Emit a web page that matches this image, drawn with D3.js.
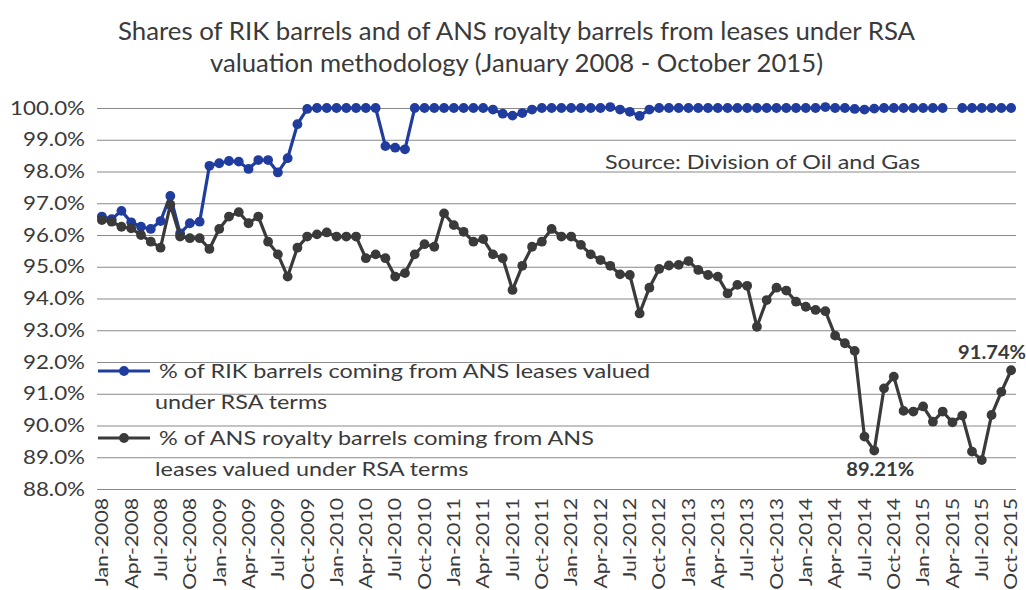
<!DOCTYPE html>
<html><head><meta charset="utf-8">
<script src="https://cdn.jsdelivr.net/npm/d3@7"></script>
<style>
body{margin:0;background:#fff;}
text{font-family:Lato,"Open Sans",sans-serif;}
</style></head>
<body><svg id="chart" width="1026" height="590"></svg>
<script>
const monthNames = ["Jan","Feb","Mar","Apr","May","Jun","Jul","Aug","Sep","Oct","Nov","Dec"];
const years = [2008,2009,2010,2011,2012,2013,2014,2015];
const categories = [];
years.forEach(y => monthNames.forEach((m,i) => { if (!(y===2015 && i>9)) categories.push(m+"-"+y); }));

const rikShare = [
96.58,96.50,96.76,96.40,96.26,96.19,96.44,97.23,96.05,96.37,
96.42,98.18,98.26,98.33,98.31,98.08,98.36,98.36,97.97,98.42,
99.49,99.97,100.0,100.0,100.0,100.0,100.0,100.0,100.0,98.80,
98.75,98.70,100.0,100.0,100.0,100.0,100.0,100.0,100.0,100.0,
99.95,99.82,99.76,99.84,99.95,100.0,100.0,100.0,100.0,100.0,
100.0,100.0,100.03,99.95,99.88,99.75,99.95,100.0,100.0,100.0,
100.0,100.0,100.0,100.0,100.0,100.0,100.0,100.0,100.0,100.0,
100.0,100.0,100.0,100.0,100.03,100.0,100.0,99.97,99.95,99.98,
100.0,100.0,100.0,100.0,100.0,100.0,100.0,null,100.0,100.0,
100.0,100.0,100.0,100.0
];
const ansShare = [
96.47,96.42,96.26,96.21,96.00,95.79,95.60,96.95,95.95,95.90,
95.90,95.56,96.19,96.58,96.72,96.37,96.58,95.79,95.39,94.69,
95.60,95.95,96.02,96.08,95.95,95.95,95.95,95.27,95.39,95.27,
94.69,94.80,95.39,95.71,95.63,96.68,96.31,96.10,95.79,95.87,
95.39,95.27,94.27,95.03,95.63,95.79,96.19,95.95,95.95,95.69,
95.39,95.21,95.03,94.76,94.74,93.53,94.34,94.93,95.04,95.06,
95.18,94.90,94.74,94.69,94.16,94.43,94.40,93.11,93.95,94.34,
94.25,93.90,93.74,93.64,93.60,92.83,92.59,92.35,89.65,89.21,
91.17,91.54,90.46,90.44,90.60,90.12,90.44,90.10,90.31,89.18,
88.91,90.33,91.06,91.74
];
const yTicks = [88,89,90,91,92,93,94,95,96,97,98,99,100];
const seriesNames = ["% of RIK barrels coming from ANS leases valued|under RSA terms",
                     "% of ANS royalty barrels coming from ANS|leases valued under RSA terms"];
const titleLines = ["Shares of RIK barrels and of ANS royalty barrels from leases under RSA",
                    "valuation methodology (January 2008 - October 2015)"];
const sourceText = "Source: Division of Oil and Gas";
const callouts = [{idx:79, text:"89.21%", pos:"below"},{idx:93, text:"91.74%", pos:"above"}];

const svg = d3.select("#chart");
const L = 97, R = 1016, T = 108, B = 489;
const x = d3.scaleBand().domain(categories).range([L,R]);
const cx = c => x(c) + x.bandwidth()/2;
const y = d3.scaleLinear().domain([88,100]).range([B,T]);

const BLUE = "#1f3c9e", DARK = "#3a3a3a", TXT = "#3a3a3a";

function stretch(sel, k) {
  sel.each(function() {
    const w = this.getComputedTextLength();
    this.setAttribute("textLength", (w*k).toFixed(2));
    this.setAttribute("lengthAdjust","spacingAndGlyphs");
  });
}
function fitTo(sel, refNode, target) {
  const k = target / refNode.getComputedTextLength();
  stretch(sel, k);
}

// title
const titleSel = svg.append("g").selectAll("text").data(titleLines).join("text")
  .attr("x", 516.5).attr("y", (d,i) => 40 + i*32)
  .attr("text-anchor","middle").attr("font-size",25).attr("fill",TXT)
  .text(d => d);
titleSel.each(function(d,i){ fitTo(d3.select(this), this, i===0 ? 797 : 613); });

// y axis with gridlines
const yAxis = svg.append("g").attr("transform",`translate(${L},0)`)
  .call(d3.axisLeft(y).tickValues(yTicks).tickSize(-(R-L)).tickPadding(12)
        .tickFormat(d => d3.format(".1f")(d) + "%"));
yAxis.select(".domain").remove();
yAxis.selectAll(".tick line").attr("stroke","#8a8a8a").attr("stroke-width",1.2);
const yLab = yAxis.selectAll(".tick text").attr("font-size",19).attr("fill",TXT);
fitTo(yLab, yLab.filter(d => d===100).node(), 75);

// x axis
const xAxis = svg.append("g").attr("transform",`translate(0,${B})`)
  .call(d3.axisBottom(x).tickValues(categories.filter((d,i) => i%3===0)).tickSize(0).tickPadding(0));
xAxis.select(".domain").remove();
const xLab = xAxis.selectAll(".tick text")
  .attr("font-size",18).attr("fill",TXT)
  .attr("transform","rotate(-90)").attr("text-anchor","end")
  .attr("x",-9).attr("y",0).attr("dy","0.35em");
fitTo(xLab, xLab.filter(d => d==="Jan-2008").node(), 88);

// source
const src = svg.append("text").attr("x",605).attr("y",169).attr("font-size",20).attr("fill",TXT).text(sourceText);
fitTo(src, src.node(), 315);

// lines
const line = d3.line().defined(d => d.v !== null).x(d => cx(d.c)).y(d => y(d.v));
const series = [
  {name:seriesNames[0], values:rikShare, color:BLUE},
  {name:seriesNames[1], values:ansShare, color:DARK}
];
series.forEach(s => {
  const pts = categories.map((c,i) => ({c, v:s.values[i]}));
  svg.append("path").datum(pts).attr("fill","none").attr("stroke",s.color)
    .attr("stroke-width",3.2).attr("stroke-linejoin","round").attr("d",line);
  svg.append("g").selectAll("circle").data(pts.filter(d => d.v !== null)).join("circle")
    .attr("cx", d => cx(d.c)).attr("cy", d => y(d.v)).attr("r",4.9)
    .attr("fill",s.color);
});

// legend
series.forEach((s,i) => {
  const ly = 371 + i*67;
  svg.append("line").attr("x1",98).attr("x2",150).attr("y1",ly).attr("y2",ly)
    .attr("stroke",s.color).attr("stroke-width",3.2);
  svg.append("circle").attr("cx",124).attr("cy",ly).attr("r",4.9).attr("fill",s.color);
  const parts = s.name.split("|");
  const t1 = svg.append("text").attr("x",159).attr("y",ly+7).attr("font-size",20).attr("fill",TXT).text(parts[0]);
  const t2 = svg.append("text").attr("x",155).attr("y",ly+38).attr("font-size",20).attr("fill",TXT).text(parts[1]);
  stretch(t1, 1.17); stretch(t2, 1.17);
});

// callouts
callouts.forEach(c => {
  const cat = categories[c.idx];
  const t = svg.append("text").attr("x", c.pos==="below" ? cx(cat)+6 : cx(cat)-19)
    .attr("y", c.pos==="below" ? y(ansShare[c.idx])+25 : y(ansShare[c.idx])-11)
    .attr("text-anchor","middle").attr("font-size",19).attr("font-weight","bold").attr("fill",TXT)
    .text(c.text);
  fitTo(t, t.node(), 68);
});
</script></body></html>
